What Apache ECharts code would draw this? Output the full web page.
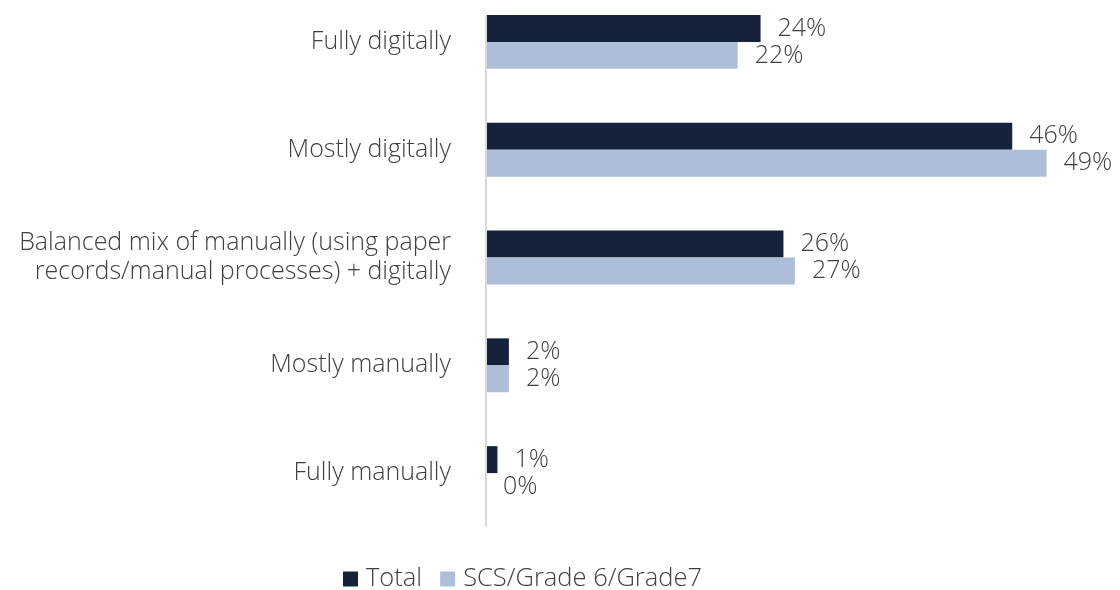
<!DOCTYPE html>
<html>
<head>
<meta charset="utf-8">
<script src="https://cdn.jsdelivr.net/npm/echarts@6/dist/echarts.min.js"></script>
<style>
  html, body { margin: 0; padding: 0; background: #fff; }
  #chart { width: 1120px; height: 590px; }
</style>
</head>
<body>
<div id="chart"></div>
<script>
// Survey answer options, listed top to bottom
const categories = [
  'Fully digitally',
  'Mostly digitally',
  'Balanced mix of manually (using paper\nrecords/manual processes) + digitally',
  'Mostly manually',
  'Fully manually'
];
const seriesNames = ['Total', 'SCS/Grade 6/Grade7'];
// Share of respondents, percent
const totalValues = [24, 46, 26, 2, 1];
const scsValues = [22, 49, 27, 2, 0];

const FONT = '"Open Sans", sans-serif';
const TEXT = '#404040';
const SIZE = 25;

const chart = echarts.init(document.getElementById('chart'));

const labelStyle = {
  show: true,
  position: 'right',
  distance: 17,
  formatter: '{c}%',
  fontFamily: FONT,
  fontWeight: 300,
  fontSize: SIZE,
  color: TEXT
};

chart.setOption({
  animation: false,
  textStyle: { fontFamily: FONT },
  grid: {
    left: 486, right: 62, top: -12, bottom: 63,
    containLabel: false,
    outerBoundsMode: 'none'
  },
  legend: {
    data: seriesNames,
    left: 343,
    top: 566,
    padding: 0,
    itemWidth: 15,
    itemHeight: 15,
    itemGap: 18,
    icon: 'rect',
    textStyle: {
      fontFamily: FONT, fontWeight: 300, fontSize: 25.5, color: TEXT,
      padding: [0, 0, 0, 3]
    }
  },
  xAxis: {
    type: 'value',
    min: 0,
    max: 50,
    show: false
  },
  yAxis: {
    type: 'category',
    data: categories,
    inverse: true,
    axisLine: { show: false },
    axisTick: { show: false },
    axisLabel: {
      margin: 35,
      fontFamily: FONT,
      fontWeight: 300,
      fontSize: SIZE,
      lineHeight: 29,
      color: TEXT,
      align: 'right'
    }
  },
  graphic: [{
    type: 'line',
    shape: { x1: 486, y1: 15, x2: 486, y2: 527 },
    style: { stroke: '#d9d9d9', lineWidth: 2 },
    z: 10
  }],
  series: [
    {
      name: seriesNames[0],
      type: 'bar',
      data: totalValues,
      barGap: '0%',
      barCategoryGap: '50%',
      itemStyle: { color: '#16223a' },
      label: labelStyle
    },
    {
      name: seriesNames[1],
      type: 'bar',
      data: scsValues,
      barGap: '0%',
      barCategoryGap: '50%',
      itemStyle: { color: '#aebdd8' },
      label: labelStyle
    }
  ]
});
</script>
</body>
</html>
